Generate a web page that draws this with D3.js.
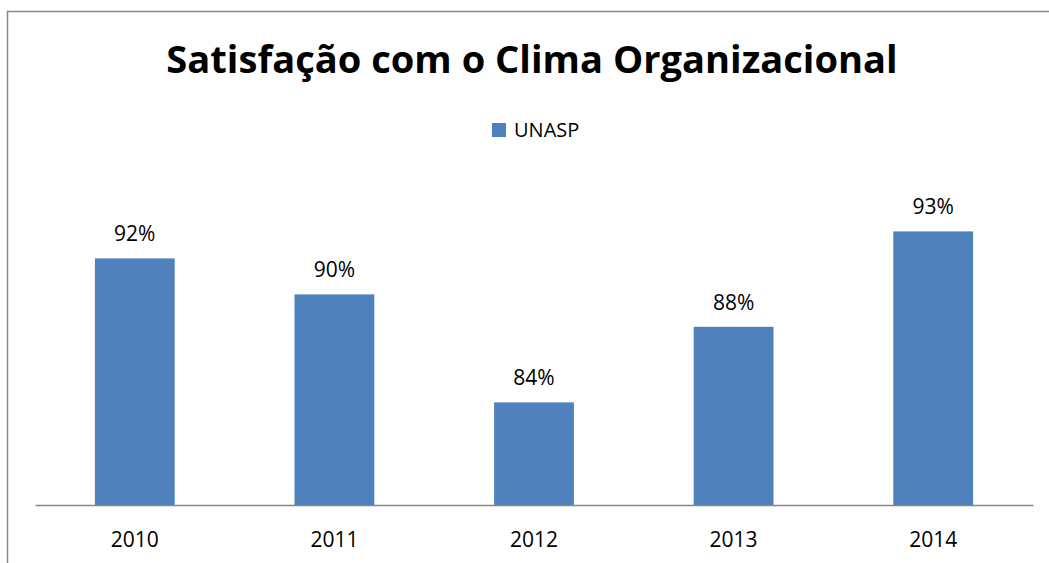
<!DOCTYPE html>
<html>
<head>
<meta charset="utf-8">
<script src="https://cdn.jsdelivr.net/npm/d3@7"></script>
<style>
  body { margin: 0; background: #fff; }
  text { font-family: "Open Sans", "Liberation Sans", sans-serif; fill: #000; }
</style>
</head>
<body>
<script>
// dados do grafico
const years = ["2010", "2011", "2012", "2013", "2014"];
const unasp = [0.917, 0.897, 0.837, 0.879, 0.932];
const seriesName = "UNASP";
const chartTitle = "Satisfação com o Clima Organizacional";

const width = 1049, height = 563;
const plot = { left: 35, right: 1033, bottom: 505 };
const barColor = "#4F81BD";

const svg = d3.select("body").append("svg")
    .attr("width", width)
    .attr("height", height);

// moldura do grafico
svg.append("rect")
    .attr("x", 7.5).attr("y", 11.5)
    .attr("width", 1100).attr("height", 600)
    .attr("fill", "none")
    .attr("stroke", "#868686")
    .attr("stroke-width", 1.5);

// titulo
const title = svg.append("text")
    .attr("x", 532).attr("y", 73)
    .attr("text-anchor", "middle")
    .style("font-weight", "bold")
    .style("font-size", "36px")
    .text(chartTitle);
// ajusta a largura do titulo
const tw = title.node().getComputedTextLength();
title.style("font-size", (36 * 732 / tw).toFixed(1) + "px");

// escalas
const x = d3.scaleBand()
    .domain(years)
    .range([plot.left, plot.right])
    .padding(0);

const y = d3.scaleLinear()
    .domain([0.78, 0.94])
    .range([plot.bottom, plot.bottom - 16 * 18]);

const barW = x.bandwidth() * 0.4;

// barras
svg.selectAll(".bar")
    .data(unasp)
    .enter()
    .append("rect")
    .attr("class", "bar")
    .attr("x", (d, i) => x(years[i]) + (x.bandwidth() - barW) / 2)
    .attr("y", d => y(d))
    .attr("width", barW)
    .attr("height", d => plot.bottom - y(d))
    .attr("fill", barColor);

// rotulos de dados
svg.selectAll(".label")
    .data(unasp)
    .enter()
    .append("text")
    .attr("class", "label")
    .attr("x", (d, i) => x(years[i]) + x.bandwidth() / 2)
    .attr("y", d => y(d) - 17)
    .attr("text-anchor", "middle")
    .style("font-size", "21px")
    .text(d => d3.format(".0%")(d));

// eixo x
const xAxis = svg.append("g")
    .attr("transform", "translate(0," + plot.bottom + ")")
    .call(d3.axisBottom(x).tickSize(0).tickPadding(0));
xAxis.select(".domain").attr("stroke", "#868686").attr("stroke-width", 1.5);
xAxis.selectAll(".tick text")
    .attr("dy", null)
    .attr("y", 42)
    .style("font-size", "21px")
    .style("font-family", "'Open Sans', sans-serif")
    .attr("fill", "#000");

// legenda
const legend = svg.append("g").attr("transform", "translate(492,123)");
legend.append("rect")
    .attr("width", 14).attr("height", 14)
    .attr("fill", barColor);
legend.append("text")
    .attr("x", 22).attr("y", 14)
    .style("font-size", "20px")
    .text(seriesName);
</script>
</body>
</html>
